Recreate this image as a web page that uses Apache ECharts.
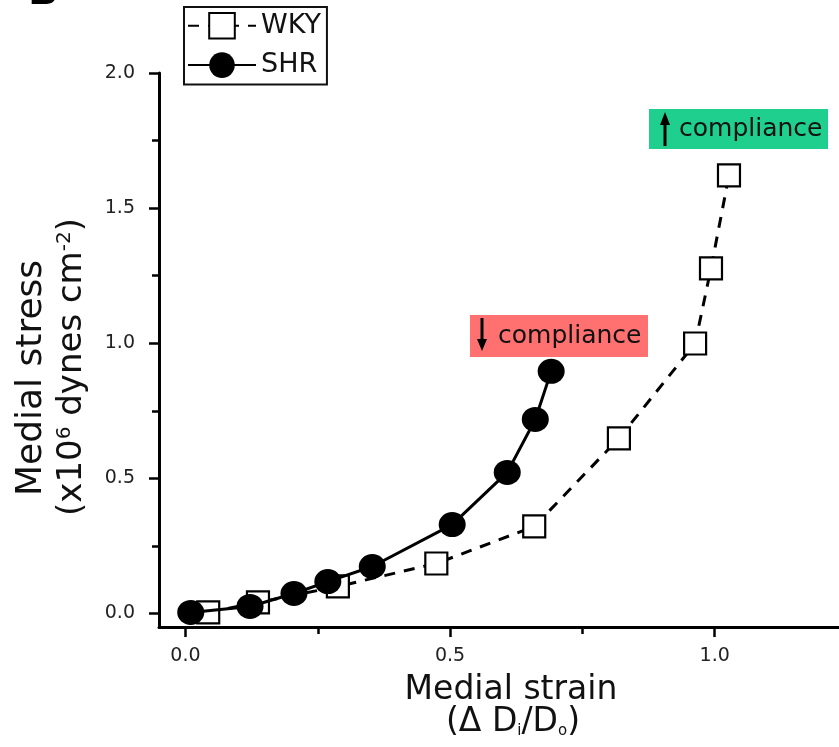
<!DOCTYPE html>
<html>
<head>
<meta charset="utf-8">
<script src="https://cdn.jsdelivr.net/npm/echarts@6/dist/echarts.min.js"></script>
<style>
html,body{margin:0;padding:0;background:#fff;}
#chart{width:839px;height:747px;}
</style>
</head>
<body>
<div id="chart"></div>
<script>
// Data
const wkyX = [0.043, 0.137, 0.288, 0.474, 0.659, 0.819, 0.963, 0.993, 1.027];
const wkyY = [0.004, 0.041, 0.100, 0.185, 0.322, 0.648, 0.999, 1.277, 1.621];
const shrX = [0.010, 0.122, 0.205, 0.269, 0.353, 0.504, 0.608, 0.661, 0.691];
const shrY = [0.004, 0.026, 0.074, 0.118, 0.174, 0.329, 0.522, 0.718, 0.896];
const xMajorTicks = [0, 0.5, 1.0];
const xMinorTicks = [0.25, 0.75];
const yMajorTicks = [0, 0.5, 1.0, 1.5, 2.0];
const yMinorTicks = [0.25, 0.75, 1.25, 1.75];
const seriesNames = ['WKY', 'SHR'];

const FONT = 'DejaVu Sans';
const chart = echarts.init(document.getElementById('chart'));

const pairs = (xs, ys) => xs.map((x, i) => [x, ys[i]]);

const xBase = {type: 'value', min: -0.05, max: 1.25, position: 'bottom', splitLine: {show: false}};
const yBase = {type: 'value', min: -0.05, max: 2.0, position: 'left', splitLine: {show: false}};

chart.setOption({
  animation: false,
  backgroundColor: '#fff',
  grid: {left: 159, width: 688, top: 73, bottom: 120, containLabel: false, outerBoundsMode: 'none'},
  xAxis: [
    Object.assign({}, xBase, {
      axisLine: {show: true, onZero: false, lineStyle: {color: '#000', width: 3}},
      axisTick: {show: true, customValues: xMajorTicks, length: 10, lineStyle: {color: '#000', width: 2.5}},
      axisLabel: {show: true, customValues: xMajorTicks, margin: 20, color: '#222', fontFamily: FONT, fontSize: 19,
        formatter: v => v.toFixed(1)}
    }),
    Object.assign({}, xBase, {
      axisLine: {show: false, onZero: false},
      axisTick: {show: true, customValues: xMinorTicks, length: 7, lineStyle: {color: '#000', width: 2.5}},
      axisLabel: {show: false}
    })
  ],
  yAxis: [
    Object.assign({}, yBase, {
      axisLine: {show: true, onZero: false, lineStyle: {color: '#000', width: 3}},
      axisTick: {show: true, customValues: yMajorTicks, length: 10, lineStyle: {color: '#000', width: 2.5}},
      axisLabel: {show: true, customValues: yMajorTicks, margin: 24, color: '#222', fontFamily: FONT, fontSize: 19,
        formatter: v => v.toFixed(1)}
    }),
    Object.assign({}, yBase, {
      axisLine: {show: false, onZero: false},
      axisTick: {show: true, customValues: yMinorTicks, length: 7, lineStyle: {color: '#000', width: 2.5}},
      axisLabel: {show: false}
    })
  ],
  legend: {
    data: seriesNames,
    orient: 'vertical',
    left: 184, top: 7,
    padding: [5, 6, 6, 3],
    itemGap: 12,
    itemWidth: 68,
    itemHeight: 32,
    itemTextGap: 5,
    borderColor: '#111',
    borderWidth: 2,
    textStyle: {color: '#111', fontFamily: FONT, fontSize: 27}
  },
  series: [
    {
      name: seriesNames[0], type: 'line', xAxisIndex: 0, yAxisIndex: 0,
      data: pairs(wkyX, wkyY),
      symbol: 'rect', symbolSize: 22,
      itemStyle: {color: '#fff', borderColor: '#000', borderWidth: 2.2},
      lineStyle: {color: '#000', width: 3, type: [11, 9]},
      z: 2
    },
    {
      name: seriesNames[1], type: 'line', xAxisIndex: 0, yAxisIndex: 0,
      data: pairs(shrX, shrY),
      symbol: 'circle', symbolSize: [27, 25],
      itemStyle: {color: '#000', borderColor: '#000', borderWidth: 0},
      lineStyle: {color: '#000', width: 3, type: 'solid'},
      z: 3
    }
  ],
  graphic: [
    // panel letter (cropped at top)
    {type: 'text', x: 28, y: 14, style: {text: 'B', font: 'bold 40px ' + FONT, fill: '#000', verticalAlign: 'bottom'}},
    // x axis title
    {type: 'text', x: 511, y: 690, style: {text: 'Medial strain', fontFamily: FONT, fontSize: 33, fill: '#111', align: 'center', verticalAlign: 'middle'}},
    {type: 'text', x: 513, y: 722, style: {
      text: '(Δ D{sub|i}/D{sub|o})', fontFamily: FONT, fontSize: 33, fill: '#111', align: 'center', verticalAlign: 'middle',
      rich: {sub: {fontFamily: FONT, fontSize: 15, fill: '#111', verticalAlign: 'bottom', padding: [15, 0, 0, 0]}}
    }},
    // y axis title
    {type: 'text', x: 32, y: 378, rotation: Math.PI / 2, style: {text: 'Medial stress', fontFamily: FONT, fontSize: 36, fill: '#111', align: 'center', verticalAlign: 'middle'}},
    {type: 'text', x: 72, y: 367, rotation: Math.PI / 2, style: {
      text: '(x10{sup|6} dynes cm{sup|-2})', fontFamily: FONT, fontSize: 34, fill: '#111', align: 'center', verticalAlign: 'middle',
      rich: {sup: {fontFamily: FONT, fontSize: 20, fill: '#111', verticalAlign: 'top', padding: [0, 0, 15, 0]}}
    }},
    // decreased compliance annotation
    {type: 'rect', shape: {x: 470, y: 315, width: 178, height: 42}, style: {fill: '#ff7070'}},
    {type: 'line', shape: {x1: 482, y1: 318, x2: 482, y2: 343}, style: {stroke: '#000', lineWidth: 3}},
    {type: 'polygon', shape: {points: [[477, 339], [487, 339], [482, 351]]}, style: {fill: '#000'}},
    {type: 'text', x: 498, y: 336, style: {text: 'compliance', fontFamily: FONT, fontSize: 25, fill: '#111', align: 'left', verticalAlign: 'middle'}},
    // increased compliance annotation
    {type: 'rect', shape: {x: 649, y: 109, width: 179, height: 40}, style: {fill: '#1ecf8e'}},
    {type: 'line', shape: {x1: 665, y1: 121, x2: 665, y2: 146}, style: {stroke: '#000', lineWidth: 3}},
    {type: 'polygon', shape: {points: [[660, 125], [670, 125], [665, 112]]}, style: {fill: '#000'}},
    {type: 'text', x: 679, y: 129, style: {text: 'compliance', fontFamily: FONT, fontSize: 25, fill: '#111', align: 'left', verticalAlign: 'middle'}}
  ]
});
</script>
</body>
</html>
